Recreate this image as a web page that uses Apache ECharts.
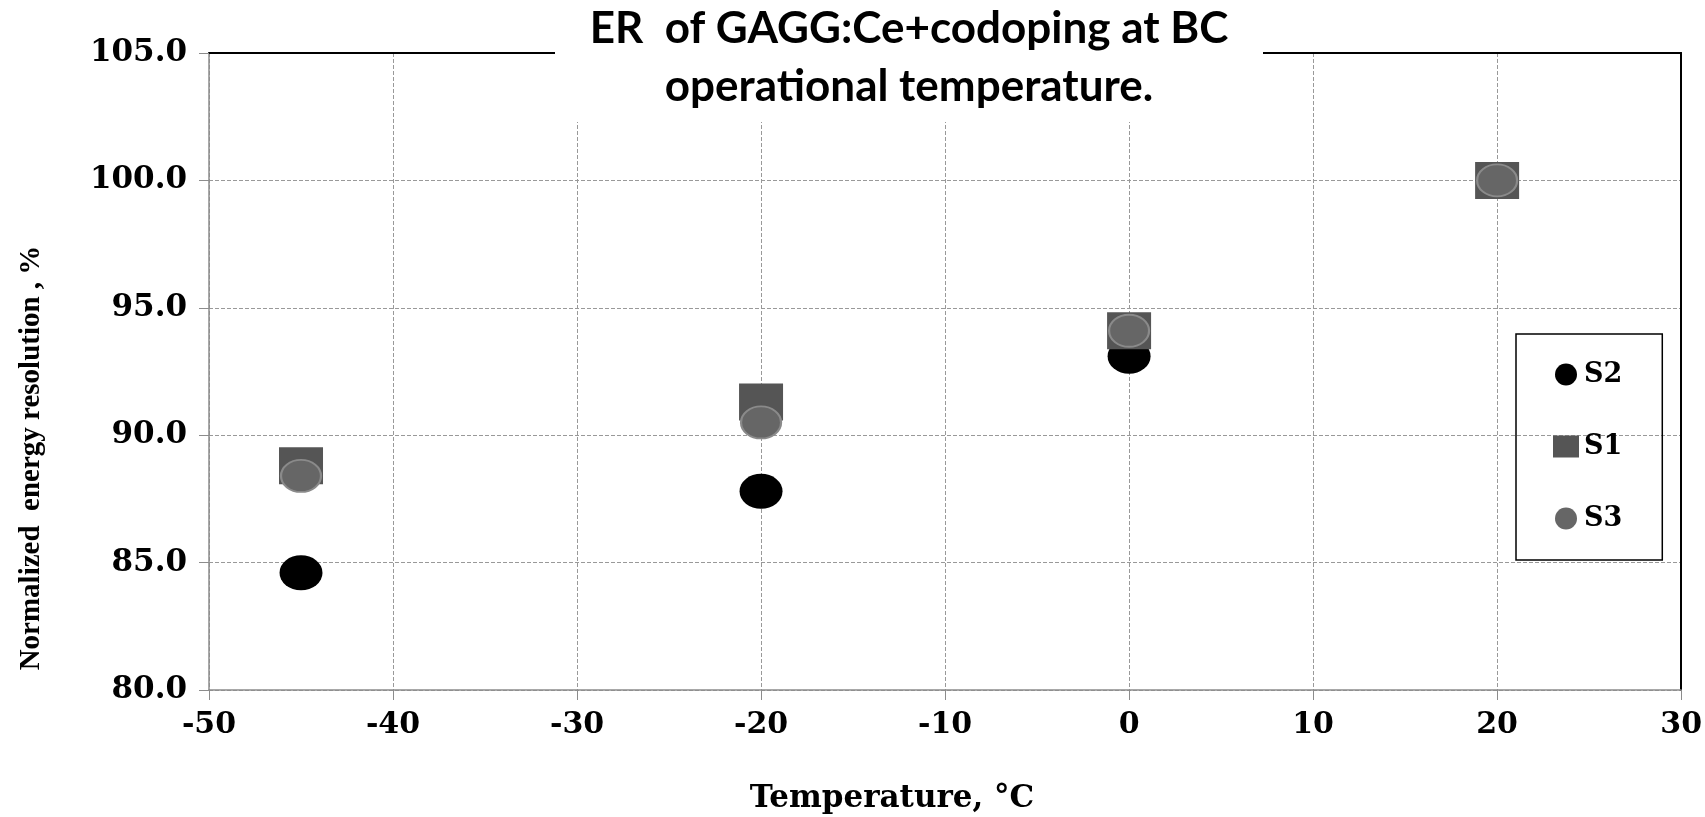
<!DOCTYPE html>
<html>
<head>
<meta charset="utf-8">
<script src="https://cdn.jsdelivr.net/npm/echarts@6/dist/echarts.min.js"></script>
<style>
  html, body { margin: 0; padding: 0; background: #fff; }
  #chart { width: 1705px; height: 817px; }
</style>
</head>
<body>
<div id="chart"></div>
<script>
var temps = [-45, -20, 0, 20];
var s2Values = [84.6, 87.8, 93.1, null];
var s1Values = [88.8, 91.3, 94.1, 100.0];
var s3Values = [88.4, 90.5, 94.1, 100.0];
var seriesNames = ['S2', 'S1', 'S3'];
var titleLines = ['ER  of GAGG:Ce+codoping at BC', 'operational temperature.'];
var xTitle = 'Temperature, °C';
var yTitle = 'Normalized  energy resolution , %';

function pairs(values) {
  var out = [];
  for (var i = 0; i < temps.length; i++) {
    if (values[i] != null) out.push([temps[i], values[i]]);
  }
  return out;
}

var serif = 'Liberation Serif';
var wideSerif = 'DejaVu Serif';
var chart = echarts.init(document.getElementById('chart'));

var option = {
  backgroundColor: '#fff',
  animation: false,
  grid: { left: 209, right: 20, top: 53, bottom: 127 },
  legend: {
    orient: 'vertical',
    left: 1516,
    top: 334,
    padding: [27, 40, 28, 37],
    itemWidth: 26,
    itemHeight: 22,
    itemGap: 45,
    borderColor: '#000',
    borderWidth: 1.5,
    textStyle: { fontFamily: wideSerif, fontWeight: 'bold', fontSize: 27, color: '#000', lineHeight: 22 },
    data: [
      { name: 'S2', icon: 'circle' },
      { name: 'S1', icon: 'rect' },
      { name: 'S3', icon: 'circle', itemStyle: { borderWidth: 0 } }
    ]
  },
  xAxis: [
    {
      type: 'value',
      min: -50,
      max: 30,
      interval: 10,
      axisLine: { show: true, onZero: false, lineStyle: { color: '#8c8c8c', width: 1.5 } },
      axisTick: { show: true, length: 10, lineStyle: { color: '#8c8c8c' } },
      axisLabel: { margin: 20, fontFamily: wideSerif, fontWeight: 'bold', fontSize: 30, color: '#000' },
      splitLine: { show: true, lineStyle: { type: 'dashed', color: '#999', width: 1 } }
    },
    {
      type: 'value',
      position: 'top',
      min: -50,
      max: 30,
      axisLine: { show: true, onZero: false, lineStyle: { color: '#000', width: 2 } },
      axisTick: { show: false },
      axisLabel: { show: false },
      splitLine: { show: false }
    }
  ],
  yAxis: [
    {
      type: 'value',
      min: 80,
      max: 105,
      interval: 5,
      axisLine: { show: true, onZero: false, lineStyle: { color: '#8c8c8c', width: 1.5 } },
      axisTick: { show: true, length: 10, lineStyle: { color: '#8c8c8c' } },
      axisLabel: {
        margin: 22,
        fontFamily: wideSerif,
        fontWeight: 'bold',
        fontSize: 31,
        color: '#000',
        formatter: function (v) { return v.toFixed(1); }
      },
      splitLine: { show: true, lineStyle: { type: 'dashed', color: '#999', width: 1 } }
    },
    {
      type: 'value',
      position: 'right',
      min: 80,
      max: 105,
      axisLine: { show: true, onZero: false, lineStyle: { color: '#000', width: 2 } },
      axisTick: { show: false },
      axisLabel: { show: false },
      splitLine: { show: false }
    }
  ],
  graphic: [
    {
      type: 'rect',
      z: 100,
      shape: { x: 555, y: 0, width: 708, height: 122 },
      style: { fill: '#fff' }
    },
    {
      type: 'text',
      z: 101,
      x: 909,
      y: 29,
      style: {
        text: titleLines[0],
        fontFamily: 'Lato',
        fontWeight: 'bold',
        fontSize: 44,
        fill: '#000',
        textAlign: 'center',
        textVerticalAlign: 'middle'
      }
    },
    {
      type: 'text',
      z: 101,
      x: 909,
      y: 87,
      style: {
        text: titleLines[1],
        fontFamily: 'Lato',
        fontWeight: 'bold',
        fontSize: 44,
        fill: '#000',
        textAlign: 'center',
        textVerticalAlign: 'middle'
      }
    },
    {
      type: 'text',
      z: 101,
      x: 32,
      y: 458,
      rotation: Math.PI / 2,
      style: {
        text: yTitle,
        fontFamily: serif,
        fontWeight: 'bold',
        fontSize: 29,
        fill: '#000',
        textAlign: 'center',
        textVerticalAlign: 'middle'
      }
    },
    {
      type: 'text',
      z: 101,
      x: 892,
      y: 799,
      style: {
        text: xTitle,
        fontFamily: wideSerif,
        fontWeight: 'bold',
        fontSize: 31,
        fill: '#000',
        textAlign: 'center',
        textVerticalAlign: 'middle'
      }
    }
  ],
  series: [
    {
      name: seriesNames[0],
      type: 'scatter',
      symbol: 'circle',
      symbolSize: [43, 35],
      itemStyle: { color: '#000', opacity: 1 },
      data: pairs(s2Values)
    },
    {
      name: seriesNames[1],
      type: 'scatter',
      symbol: 'rect',
      symbolSize: [44, 37],
      itemStyle: { color: '#555', opacity: 1 },
      data: pairs(s1Values)
    },
    {
      name: seriesNames[2],
      type: 'scatter',
      symbol: 'circle',
      symbolSize: [40, 32],
      itemStyle: { color: '#666', borderColor: '#8a8a8a', borderWidth: 2, opacity: 1 },
      data: pairs(s3Values)
    }
  ]
};

chart.setOption(option);
</script>
</body>
</html>
